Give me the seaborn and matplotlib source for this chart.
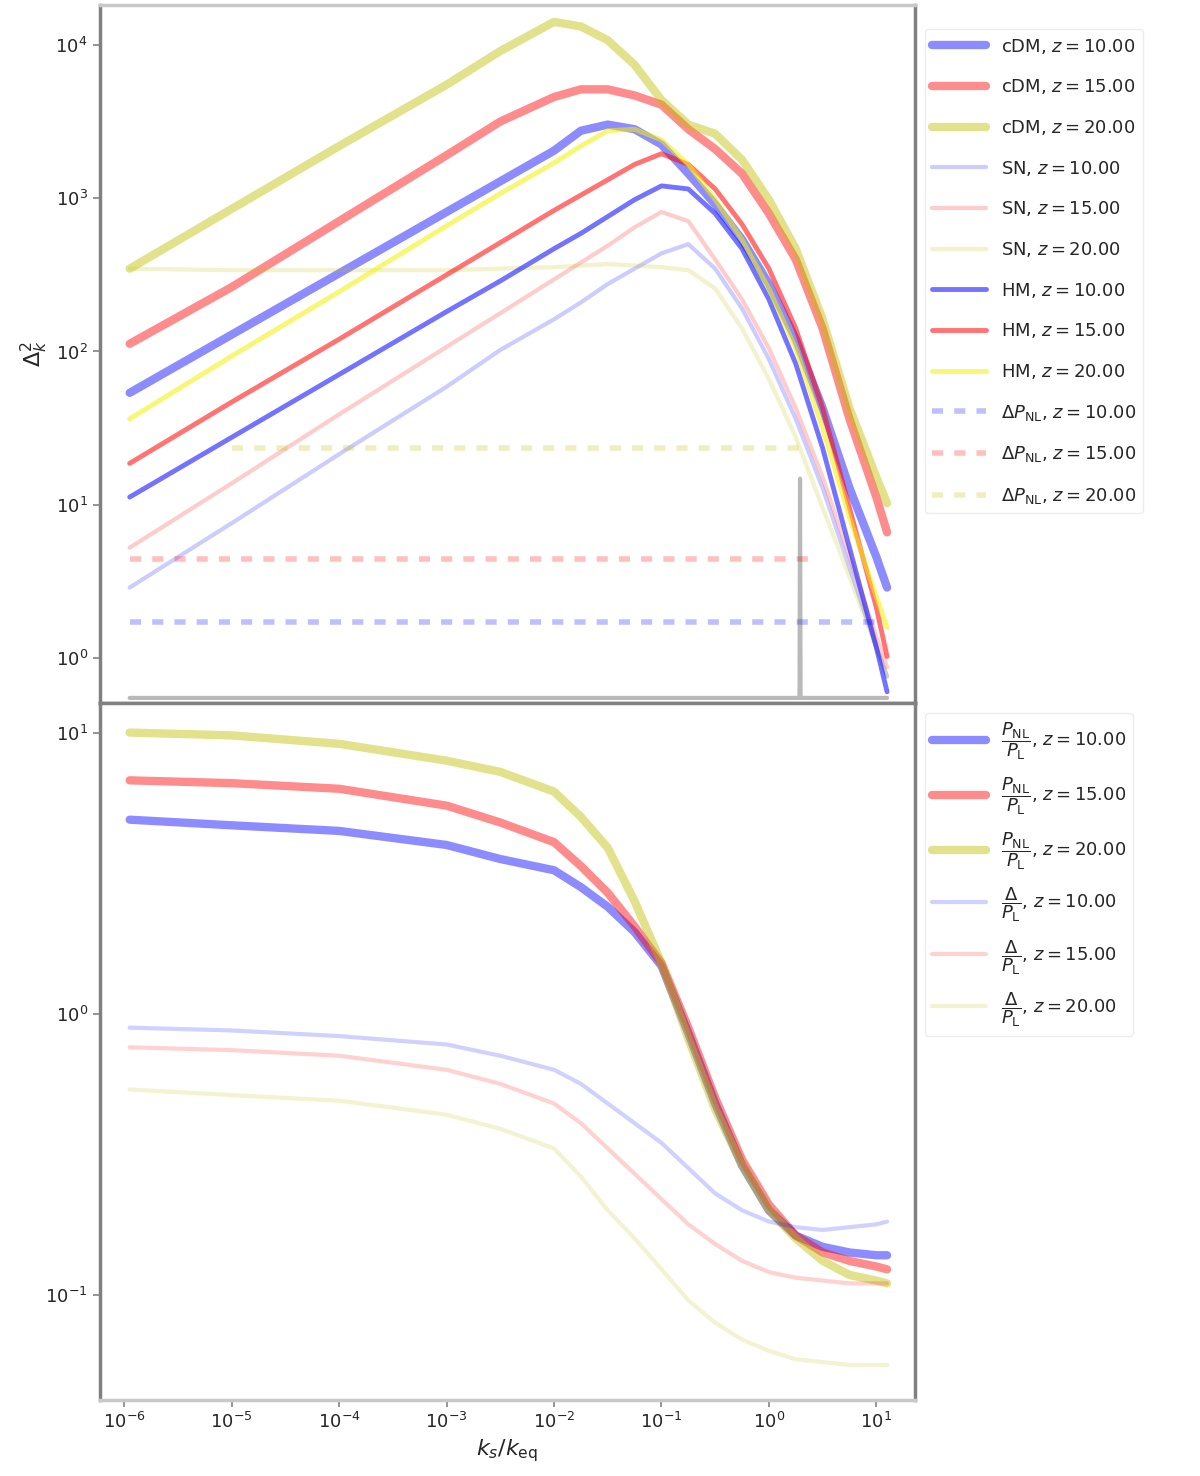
import numpy as np
import pandas as pd
import matplotlib
matplotlib.use('Agg')
import matplotlib.pyplot as plt
import matplotlib.ticker as mticker
import seaborn as sns

sns.set_theme(style='white')
plt.rcParams['font.family'] = ['DejaVu Sans']
plt.rcParams['mathtext.fontset'] = 'dejavusans'

# =========================
# Data (log10 values)
# =========================
log_k = [-5.95, -5, -4, -3, -2.5, -2, -1.75, -1.5, -1.25, -1, -0.75, -0.5, -0.25, 0, 0.25, 0.5, 0.75, 1.0, 1.1]

# upper panel, thick lines
up_thick_blue = [1.73, 2.11, 2.51, 2.91, 3.11, 3.31, 3.44, 3.48, 3.45, 3.35, 3.16, 2.96, 2.73, 2.44, 2.08, 1.63, 1.11, 0.66, 0.46]
up_thick_red = [2.05, 2.42, 2.85, 3.28, 3.50, 3.66, 3.71, 3.71, 3.67, 3.61, 3.45, 3.32, 3.16, 2.90, 2.60, 2.15, 1.56, 1.05, 0.82]
up_thick_yel = [2.54, 2.93, 3.34, 3.74, 3.96, 4.15, 4.12, 4.03, 3.87, 3.64, 3.48, 3.42, 3.25, 2.99, 2.67, 2.21, 1.63, 1.18, 1.01]
# upper panel, thin light lines
up_thin_blue = [0.46, 0.88, 1.33, 1.77, 2.01, 2.21, 2.32, 2.44, 2.54, 2.64, 2.70, 2.54, 2.28, 1.95, 1.56, 1.11, 0.59, 0.07, -0.12]
up_thin_red = [0.72, 1.14, 1.59, 2.03, 2.25, 2.47, 2.58, 2.69, 2.81, 2.91, 2.85, 2.60, 2.34, 2.02, 1.63, 1.18, 0.66, 0.14, -0.06]
up_thin_yel = [2.54, 2.53, 2.53, 2.53, 2.54, 2.55, 2.56, 2.57, 2.56, 2.55, 2.53, 2.41, 2.15, 1.82, 1.44, 0.98, 0.53, 0.07, -0.12]
# upper panel, medium lines
up_mid_blue = [1.05, 1.44, 1.85, 2.26, 2.46, 2.67, 2.77, 2.88, 2.99, 3.08, 3.06, 2.90, 2.67, 2.34, 1.92, 1.37, 0.72, 0.07, -0.22]
up_mid_red = [1.27, 1.67, 2.08, 2.50, 2.71, 2.92, 3.02, 3.12, 3.22, 3.29, 3.22, 3.06, 2.83, 2.54, 2.15, 1.63, 0.98, 0.33, 0.01]
up_mid_yel = [1.56, 1.97, 2.39, 2.82, 3.03, 3.23, 3.34, 3.44, 3.45, 3.38, 3.22, 2.99, 2.73, 2.41, 2.02, 1.50, 0.92, 0.40, 0.20]

# horizontal reference levels (dashed)
dash_blue_k = [-5.95, 1.05]
dash_blue = [0.234, 0.234]
dash_red_k = [-5.95, 0.38]
dash_red = [0.643, 0.643]
dash_yel_k = [-5.0, 0.29]
dash_yel = [1.37, 1.37]

# grey spike line near the bottom of the upper panel
spike_k = [-5.95, 0.285, 0.29, 0.295, 1.1]
spike_v = [-0.26, -0.26, 1.17, -0.26, -0.26]

# lower panel
lo_thick_blue = [0.69, 0.67, 0.65, 0.60, 0.55, 0.51, 0.45, 0.38, 0.29, 0.17, -0.07, -0.32, -0.54, -0.70, -0.79, -0.83, -0.85, -0.86, -0.86]
lo_thick_red = [0.83, 0.82, 0.80, 0.74, 0.68, 0.61, 0.525, 0.43, 0.31, 0.18, -0.05, -0.30, -0.52, -0.68, -0.79, -0.85, -0.88, -0.90, -0.91]
lo_thick_yel = [1.00, 0.99, 0.96, 0.90, 0.86, 0.79, 0.70, 0.59, 0.40, 0.18, -0.09, -0.34, -0.54, -0.70, -0.80, -0.88, -0.93, -0.95, -0.96]
lo_thin_blue = [-0.05, -0.06, -0.08, -0.11, -0.15, -0.20, -0.25, -0.32, -0.39, -0.46, -0.55, -0.64, -0.70, -0.74, -0.76, -0.77, -0.76, -0.75, -0.74]
lo_thin_red = [-0.12, -0.13, -0.15, -0.20, -0.25, -0.32, -0.39, -0.48, -0.57, -0.66, -0.75, -0.82, -0.88, -0.92, -0.94, -0.95, -0.96, -0.96, -0.96]
lo_thin_yel = [-0.27, -0.29, -0.31, -0.36, -0.41, -0.48, -0.58, -0.70, -0.80, -0.91, -1.02, -1.10, -1.16, -1.20, -1.23, -1.24, -1.25, -1.25, -1.25]

z_labels = ['10.00', '15.00', '20.00']
upper_yticks = [1, 10, 100, 1000, 10000]
lower_yticks = [0.1, 1, 10]
xticks = [1e-6, 1e-5, 1e-4, 1e-3, 1e-2, 1e-1, 1, 10]

# =========================
# Figure
# =========================
fig, (ax1, ax2) = plt.subplots(2, 1, figsize=(12, 14.76), dpi=100, sharex=True)
fig.subplots_adjust(left=0.083, right=0.7625, top=0.9966, bottom=0.0515, hspace=0)

olive = (0.75, 0.75, 0.0)
cols = [(0, 0, 1), (1, 0, 0), olive]
cols_mid = [(0, 0, 1), (1, 0, 0), (0.95, 0.95, 0.0)]


def draw(ax, xlog, ylog, color, lw, alpha, label=None, ls='-'):
    sns.lineplot(x=10 ** np.array(xlog), y=10 ** np.array(ylog), ax=ax, color=color,
                 lw=lw, alpha=alpha, label=label, linestyle=ls, sort=False)


for c, d, z in zip(cols, [up_thick_blue, up_thick_red, up_thick_yel], z_labels):
    draw(ax1, log_k, d, c, 6, 0.45, f'cDM, $z={z}$')
for c, d, z in zip(cols, [up_thin_blue, up_thin_red, up_thin_yel], z_labels):
    draw(ax1, log_k, d, c, 3, 0.2, f'SN, $z={z}$')
for c, d, z in zip(cols_mid, [up_mid_blue, up_mid_red, up_mid_yel], z_labels):
    draw(ax1, log_k, d, c, 3.5, 0.55, f'HM, $z={z}$')
for c, kk, d, z in zip(cols, [dash_blue_k, dash_red_k, dash_yel_k],
                       [dash_blue, dash_red, dash_yel], z_labels):
    draw(ax1, kk, d, c, 4, 0.25, f'$\\Delta P_{{\\rm NL}}$, $z={z}$', ls=(0, (2, 2)))
draw(ax1, spike_k, spike_v, 'k', 3, 0.3)

for c, d, z in zip(cols, [lo_thick_blue, lo_thick_red, lo_thick_yel], z_labels):
    draw(ax2, log_k, d, c, 6, 0.45, f'$\\dfrac{{P_{{\\rm NL}}}}{{P_{{\\rm L}}}}$, $z={z}$')
for c, d, z in zip(cols, [lo_thin_blue, lo_thin_red, lo_thin_yel], z_labels):
    draw(ax2, log_k, d, c, 3, 0.18, f'$\\dfrac{{\\Delta}}{{P_{{\\rm L}}}}$, $z={z}$')

for ax in (ax1, ax2):
    ax.set_xscale('log')
    ax.set_yscale('log')
    for s in ax.spines.values():
        s.set_color('#808080')
        s.set_linewidth(2.5)
    ax.tick_params(which='major', labelsize=13, length=5, color='#888888', bottom=True, left=True)
    ax.xaxis.set_minor_formatter(mticker.NullFormatter())
    ax.yaxis.set_minor_formatter(mticker.NullFormatter())

ax1.set_xlim(10 ** -6.23, 10 ** 1.36)
ax1.set_ylim(10 ** -0.29, 10 ** 4.26)
ax2.set_ylim(10 ** -1.375, 10 ** 1.107)
ax2.set_xticks(xticks)
ax1.set_yticks(upper_yticks)
ax2.set_yticks(lower_yticks)
ax1.spines['top'].set_color('#c8c8c8')
ax2.spines['bottom'].set_color('#c8c8c8')

ax1.set_ylabel('$\\Delta^2_k$', fontsize=16)
ax2.set_xlabel('$k_s/k_{\\rm eq}$', fontsize=16)

ax1.legend(loc='upper left', bbox_to_anchor=(1.012, 0.965), fontsize=13,
           handlelength=3, labelspacing=1.2, borderaxespad=0, frameon=True,
           edgecolor='#e8e8e8')
ax2.legend(loc='upper left', bbox_to_anchor=(1.012, 0.985), fontsize=13,
           handlelength=3, labelspacing=0.75, borderaxespad=0, frameon=True,
           edgecolor='#e8e8e8')

plt.savefig('out.png', dpi=100)
